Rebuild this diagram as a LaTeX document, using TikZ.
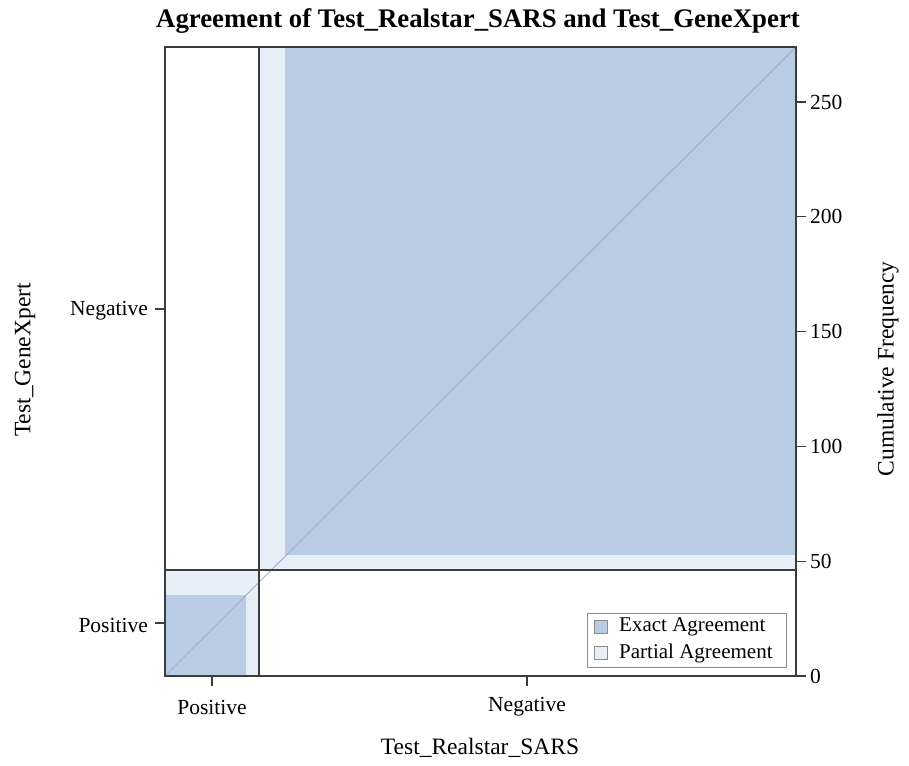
\documentclass[tikz,border=0pt]{standalone}
\usepackage{fontspec}
\setmainfont{Liberation Serif}
\definecolor{exact}{RGB}{184,204,228}
\definecolor{partial}{RGB}{230,238,248}
\definecolor{framec}{RGB}{60,60,60}
\definecolor{diagc}{RGB}{165,175,195}
\definecolor{legc}{RGB}{140,140,140}
\tikzset{
  ticklab/.style={font=\fontsize{21.5}{24}\selectfont, inner sep=0pt},
  axlab/.style={font=\fontsize{23.5}{26}\selectfont, inner sep=0pt},
  legtext/.style={font=\fontsize{21}{24}\selectfont, inner sep=0pt, anchor=west},
  framel/.style={draw=framec, line width=1.3pt},
  tickl/.style={draw=framec, line width=1.3pt},
  legsq/.style={draw=legc, line width=1pt}
}
\begin{document}
\begin{tikzpicture}[x=1pt,y=-1pt]
\useasboundingbox (0,0) rectangle (909,765);
% cell fills
\fill[partial] (165,570) rectangle (259,676);
\fill[exact] (165,595) rectangle (246,676);
\fill[partial] (259,47) rectangle (796,570);
\fill[exact] (285,47) rectangle (796,555);
% diagonal
\coordinate (dA) at (165,676);
\coordinate (dB) at (796,47);
\draw[diagc, line width=0.9pt] (dA) -- (dB);
% dividers
\coordinate (vT) at (259,47);
\coordinate (vB) at (259,676);
\coordinate (hL) at (165,570);
\coordinate (hR) at (796,570);
\draw[framel] (vT) -- (vB);
\draw[framel] (hL) -- (hR);
% frame
\draw[framel] (165,47) rectangle (796,676);
% left ticks
\foreach \y/\t/\n in {309/Negative/ln, 623/Positive/lp}{
  \draw[tickl] (155,\y) -- (165,\y);
  \node[ticklab, anchor=east] (\n) at (148,\y+2) {\t};
}
% bottom ticks
\foreach \x/\t/\n in {212/Positive/bp, 527/Negative/bn}{
  \draw[tickl] (\x,676) -- (\x,686);
  \node[ticklab] (\n) at (\x,707) {\t};
}
% right ticks
\foreach \v in {0,50,100,150,200,250}{
  \pgfmathsetmacro{\yy}{676-2.296*\v}
  \draw[tickl] (796,\yy) -- (806,\yy);
  \node[ticklab, anchor=west] (r\v) at (810,\yy) {\v};
}
% axis labels
\node[axlab] (xlab) at (480,748) {Test\_Realstar\_SARS};
\node[axlab, rotate=90] (ylab) at (25,360) {Test\_GeneXpert};
\node[axlab, rotate=90] (y2lab) at (888,369) {Cumulative Frequency};
% title
\node[font=\bfseries\fontsize{26.8}{30}\selectfont, inner sep=0pt] (title) at (478,21) {Agreement of Test\_Realstar\_SARS and Test\_GeneXpert};
% legend
\draw[draw=legc, fill=white, line width=1pt] (587,613) rectangle (786,667);
\draw[legsq, fill=exact] (594,620) rectangle (607,633);
\draw[legsq, fill=partial] (594,646) rectangle (607,659);
\node[legtext] (le) at (619,627) {Exact Agreement};
\node[legtext] (lp2) at (619,653) {Partial Agreement};
\end{tikzpicture}
\end{document}
